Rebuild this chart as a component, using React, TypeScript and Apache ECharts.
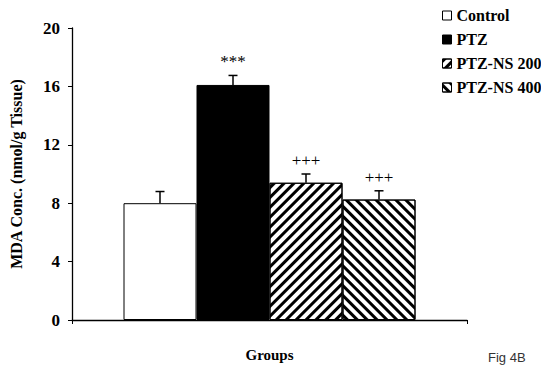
import React, { useEffect, useRef } from "react";
import * as echarts from "echarts";

const categories = ["Groups"];
const seriesNames = ["Control", "PTZ", "PTZ-NS 200", "PTZ-NS 400"];
const means = [8.0, 16.1, 9.4, 8.25];
const errors = [0.8, 0.65, 0.6, 0.6];
const marks = ["", "***", "+++", "+++"];
const yMin = 0;
const yMax = 20;
const yInterval = 4;

const SERIF = "'Liberation Serif', 'Times New Roman', serif";
const BAR_W = 73;

export default function App() {
  const ref = useRef<HTMLDivElement>(null);

  useEffect(() => {
    if (!ref.current) return;
    document.body.style.margin = "0";
    document.body.style.overflow = "hidden";
    const chart = echarts.init(ref.current, undefined, { renderer: "svg" });

    const fills = ["#ffffff", "#000000", "#ffffff", "#ffffff"];
    const decals: any[] = [
      undefined,
      undefined,
      {
        symbol: "rect",
        symbolSize: 1,
        color: "#000",
        backgroundColor: "#fff",
        dashArrayX: [1, 0],
        dashArrayY: [2.2, 3.8],
        rotation: -Math.PI / 4,
      },
      {
        symbol: "rect",
        symbolSize: 1,
        color: "#000",
        backgroundColor: "#fff",
        dashArrayX: [1, 0],
        dashArrayY: [2.2, 3.8],
        rotation: Math.PI / 4,
      },
    ];

    const barSeries = seriesNames.map((name, i) => ({
      name,
      type: "bar",
      data: [means[i]],
      barWidth: BAR_W,
      barGap: "0%",
      itemStyle: {
        color: fills[i],
        borderColor: "#000",
        borderWidth: 1,
        decal: decals[i],
      },
      z: 2,
    }));

    const errSeries = {
      name: "error",
      type: "custom",
      z: 5,
      itemStyle: { color: "#000" },
      data: means.map((m, i) => [0, m, errors[i]]),
      renderItem: (params: any, api: any) => {
        const i = params.dataIndex;
        const m = api.value(1);
        const e = api.value(2);
        const base = api.coord([0, 0]);
        const cx = base[0] + (i - 1.5) * BAR_W;
        const top = api.coord([0, m])[1];
        const et = api.coord([0, m + e])[1];
        return {
          type: "group",
          children: [
            {
              type: "line",
              shape: { x1: cx, y1: top, x2: cx, y2: et },
              style: { stroke: "#000", lineWidth: 1.5 },
            },
            {
              type: "line",
              shape: { x1: cx - 4.5, y1: et, x2: cx + 4.5, y2: et },
              style: { stroke: "#000", lineWidth: 1.5 },
            },
            {
              type: "text",
              x: cx,
              y: et - 5,
              style: {
                text: marks[i],
                align: "center",
                verticalAlign: "bottom",
                fontSize: 17,
                fontFamily: SERIF,
                fill: "#000",
              },
            },
          ],
        };
      },
    };

    chart.setOption({
      animation: false,
      backgroundColor: "#ffffff",
      grid: { left: 67, right: 74, top: 28, bottom: 43, containLabel: false },
      legend: {
        data: seriesNames,
        orient: "vertical",
        left: 437,
        top: 2,
        itemWidth: 9,
        itemHeight: 9,
        itemGap: 7,
        icon: "rect",
        textStyle: {
          fontFamily: SERIF,
          fontWeight: "bold",
          fontSize: 16,
          color: "#000",
          lineHeight: 17,
        },
        itemStyle: { borderColor: "#000", borderWidth: 1 },
      },
      xAxis: {
        type: "category",
        data: categories,
        name: "Groups",
        nameLocation: "middle",
        nameGap: 27,
        nameTextStyle: {
          fontFamily: SERIF,
          fontWeight: "bold",
          fontSize: 15,
          color: "#000",
        },
        axisLine: { lineStyle: { color: "#000", width: 1.3 } },
        axisTick: { show: true, length: 4, lineStyle: { color: "#000" } },
        axisLabel: { show: false },
      },
      yAxis: {
        type: "value",
        min: yMin,
        max: yMax,
        interval: yInterval,
        name: "MDA Conc. (nmol/g Tissue)",
        nameLocation: "middle",
        nameGap: 48,
        nameRotate: 90,
        nameTextStyle: {
          fontFamily: SERIF,
          fontWeight: "bold",
          fontSize: 16,
          color: "#000",
        },
        axisLine: { show: true, lineStyle: { color: "#000", width: 1.3 } },
        axisTick: { show: true, length: 4, lineStyle: { color: "#000" } },
        axisLabel: {
          fontFamily: SERIF,
          fontWeight: "bold",
          fontSize: 17,
          color: "#000",
          margin: 12,
        },
        splitLine: { show: false },
      },
      graphic: [
        {
          type: "text",
          left: 488,
          top: 351,
          style: {
            text: "Fig 4B",
            fontFamily: "'Liberation Sans', Arial, sans-serif",
            fontSize: 13,
            fill: "#333",
          },
        },
      ],
      series: [...barSeries, errSeries],
    });

    return () => chart.dispose();
  }, []);

  return (
    <div
      ref={ref}
      style={{ position: "fixed", left: 0, top: 0, width: 541, height: 367 }}
    />
  );
}
